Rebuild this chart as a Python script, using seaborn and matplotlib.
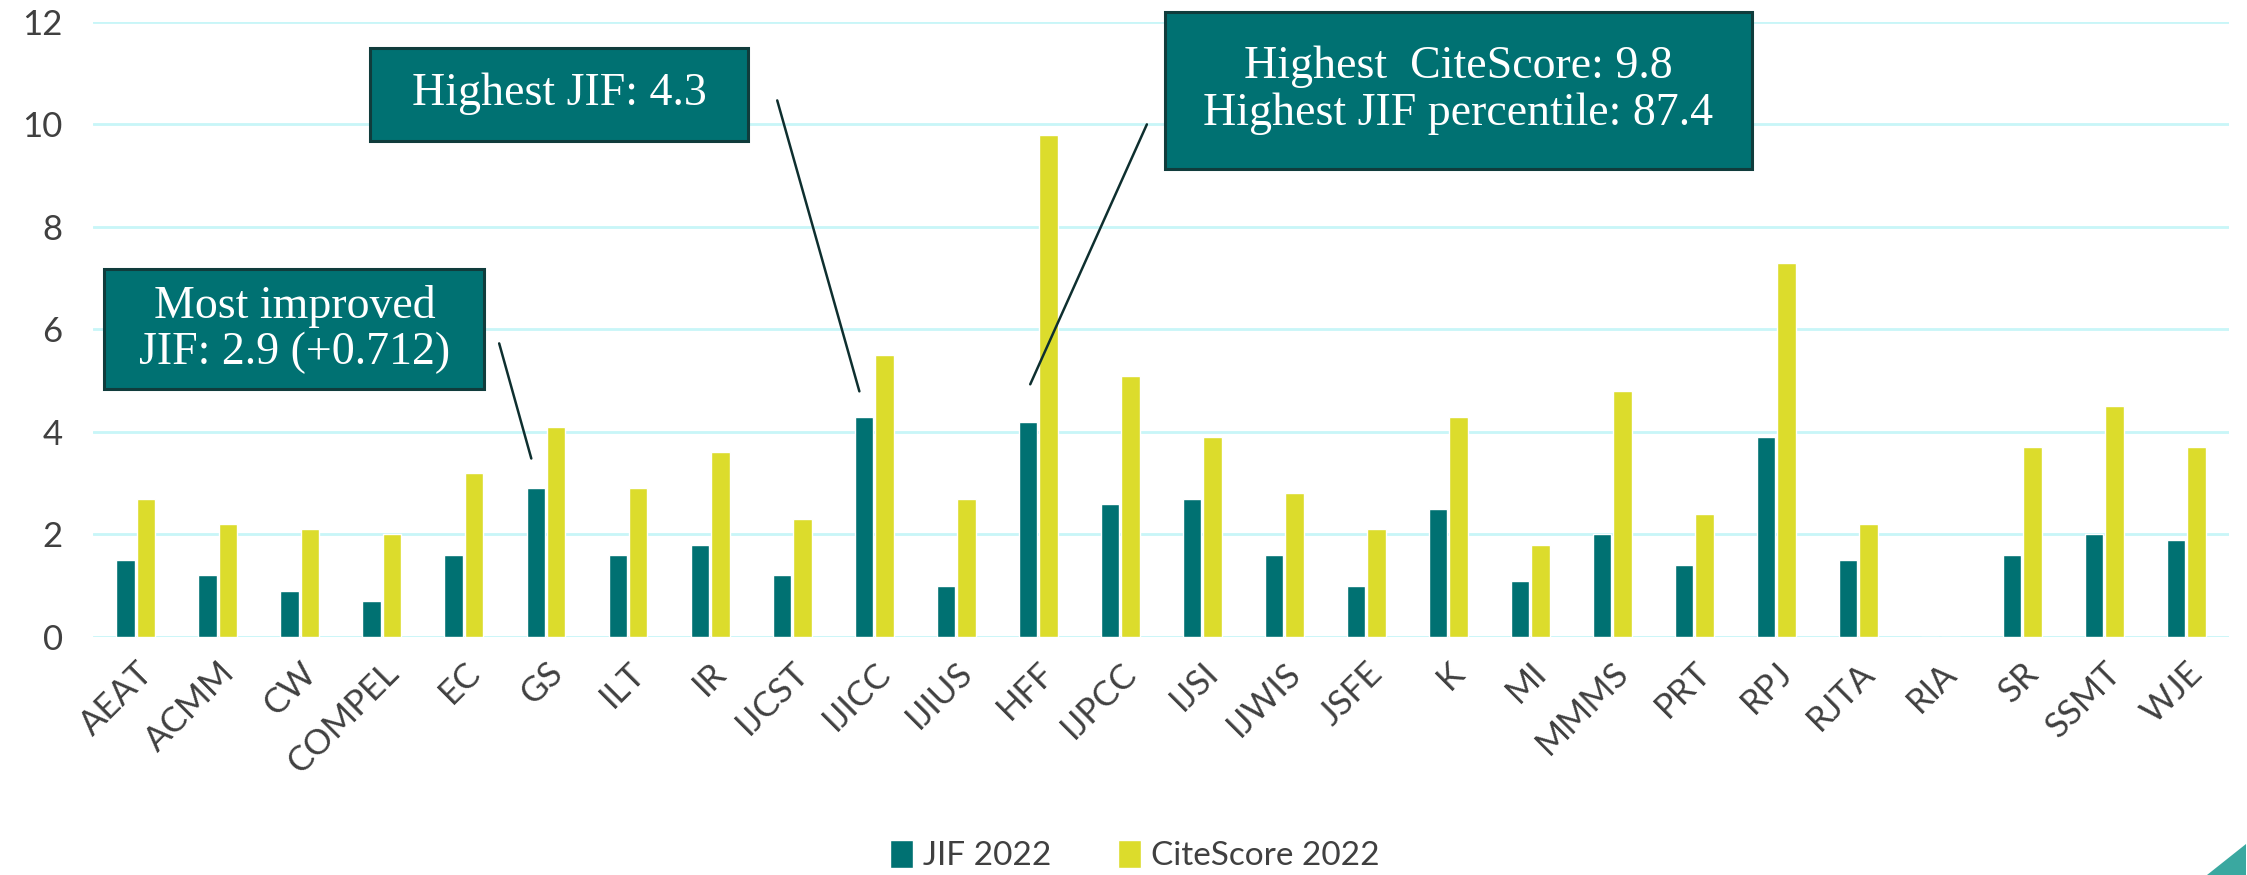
import pandas as pd
import numpy as np
import matplotlib
matplotlib.use('Agg')
import matplotlib.pyplot as plt
import seaborn as sb

journals = ['AEAT', 'ACMM', 'CW', 'COMPEL', 'EC', 'GS', 'ILT', 'IR', 'IJCST', 'IJICC',
            'IJIUS', 'HFF', 'IJPCC', 'IJSI', 'IJWIS', 'JSFE', 'K', 'MI', 'MMMS', 'PRT',
            'RPJ', 'RJTA', 'RIA', 'SR', 'SSMT', 'WJE']
jif = [1.5, 1.2, 0.9, 0.7, 1.6, 2.9, 1.6, 1.8, 1.2, 4.3,
       1.0, 4.2, 2.6, 2.7, 1.6, 1.0, 2.5, 1.1, 2.0, 1.4,
       3.9, 1.5, 0.0, 1.6, 2.0, 1.9]
citescore = [2.7, 2.2, 2.1, 2.0, 3.2, 4.1, 2.9, 3.6, 2.3, 5.5,
             2.7, 9.8, 5.1, 3.9, 2.8, 2.1, 4.3, 1.8, 4.8, 2.4,
             7.3, 2.2, 0.0, 3.7, 4.5, 3.7]
series = ['JIF 2022', 'CiteScore 2022']
colores = ['#007172', '#DCDC2C']

datos = pd.DataFrame({'journal': journals * 2,
                      'valor': jif + citescore,
                      'serie': [series[0]] * len(journals) + [series[1]] * len(journals)})

sb.set_style('white')
plt.rcParams['font.family'] = ['Lato', 'DejaVu Sans']

fig = plt.figure(figsize=(22.47, 8.75), dpi=100)
ax = fig.add_axes([0.0415, 0.272, 0.9505, 0.703])

sb.barplot(data=datos, x='journal', y='valor', hue='serie', palette=colores,
           saturation=1, width=0.5, gap=0.1, order=journals, hue_order=series, ax=ax,
           errorbar=None, legend=True, zorder=3)

ax.set_ylim(0, 12)
ax.set_yticks(range(0, 13, 2))
ax.set_xlim(-0.52, len(journals) - 0.48)
ax.yaxis.grid(True, color='#C8F6F8', linewidth=2, zorder=0)
ax.set_axisbelow(True)
for s in ax.spines.values():
    s.set_visible(False)
ax.set_xlabel('')
ax.set_ylabel('')
ax.tick_params(axis='both', length=0, labelsize=25, colors='#404040')
ax.tick_params(axis='y', pad=22)
plt.setp(ax.get_xticklabels(), rotation=45, ha='right', rotation_mode='anchor')
ax.tick_params(axis='x', pad=14)

leg = ax.legend(loc='center', bbox_to_anchor=(0.505, 0.022), bbox_transform=fig.transFigure,
                ncol=2, frameon=False, fontsize=24, handlelength=0.7, handleheight=0.9,
                columnspacing=2.0, handletextpad=0.3, labelcolor='#404040')

# cajas de anotacion (tamano fijo, como en la diapositiva)
textos = ['Most improved\nJIF: 2.9 (+0.712)',
          'Highest JIF: 4.3',
          'Highest  CiteScore: 9.8\nHighest JIF percentile: 87.4']
cajas = [(-0.385, 4.83, 4.633, 2.34),
         (2.85, 9.68, 4.615, 1.82),
         (12.55, 9.13, 7.15, 3.07)]
lineas = [((4.42, 5.78), (4.83, 3.43)),
          ((7.81, 10.52), (8.83, 4.74)),
          ((12.34, 10.05), (10.89, 4.88))]
for t, c, l in zip(textos, cajas, lineas):
    x0, y0, w, h = c
    ax.add_patch(plt.Rectangle((x0, y0), w, h, facecolor='#007172', edgecolor='#103C3C',
                               linewidth=2.2, zorder=5, clip_on=False))
    ax.text(x0 + w / 2, y0 + h / 2, t, ha='center', va='center', fontsize=33, color='white',
            family='Liberation Serif', linespacing=1.12, zorder=6, clip_on=False)
    ax.annotate('', xy=l[1], xytext=l[0],
                arrowprops=dict(arrowstyle='-', color='#0E2F2F', lw=1.8), zorder=5)

# logo parcial abajo a la derecha
fig.patches.append(plt.Polygon([[0.982, 0.0], [0.9995, 0.0], [0.9995, 0.035]],
                               closed=True, transform=fig.transFigure,
                               facecolor='#3AA8A0', edgecolor='none'))

plt.savefig('out.png', dpi=100)
